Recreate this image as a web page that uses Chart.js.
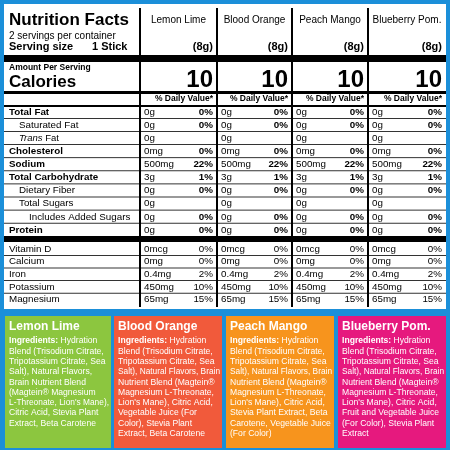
<!DOCTYPE html>
<html><head><meta charset="utf-8">
<script src="https://cdn.jsdelivr.net/npm/chart.js@4"></script>
<style>html,body{margin:0;padding:0;background:#1b8fd9}canvas{display:block}</style>
</head><body>
<canvas id="c" width="450" height="450"></canvas>
<script>
const flavors = ["Lemon Lime","Blood Orange","Peach Mango","Blueberry Pom."];
const servingGrams = ["(8g)","(8g)","(8g)","(8g)"];
const calories = [10,10,10,10];
const nutrientLabels = ["Total Fat","Saturated Fat","Trans Fat","Cholesterol","Sodium","Total Carbohydrate","Dietary Fiber","Total Sugars","Includes Added Sugars","Protein"];
const nutrientBold = [true,false,false,true,true,true,false,false,false,true];
const nutrientIndent = [0,1,1,0,0,0,1,1,2,0];
const nutrientAmounts = ["0g","0g","0g","0mg","500mg","3g","0g","0g","0g","0g"];
const nutrientDV = ["0%","0%","","0%","22%","1%","0%","","0%","0%"];
const mineralLabels = ["Vitamin D","Calcium","Iron","Potassium","Magnesium"];
const mineralAmounts = ["0mcg","0mg","0.4mg","450mg","65mg"];
const mineralDV = ["0%","0%","2%","10%","15%"];
const boxColors = ["#8cc63f","#f15a3b","#f7941d","#e6197e"];
const ingredients = [
 ["Hydration","Blend (Trisodium Citrate,","Tripotassium Citrate, Sea","Salt), Natural Flavors,","Brain Nutrient Blend","(Magtein® Magnesium","L-Threonate, Lion's Mane),","Citric Acid, Stevia Plant","Extract, Beta Carotene"],
 ["Hydration","Blend (Trisodium Citrate,","Tripotassium Citrate, Sea","Salt), Natural Flavors, Brain","Nutrient Blend (Magtein®","Magnesium L-Threonate,","Lion's Mane), Citric Acid,","Vegetable Juice (For","Color), Stevia Plant","Extract, Beta Carotene"],
 ["Hydration","Blend (Trisodium Citrate,","Tripotassium Citrate, Sea","Salt), Natural Flavors, Brain","Nutrient Blend (Magtein®","Magnesium L-Threonate,","Lion's Mane), Citric Acid,","Stevia Plant Extract, Beta","Carotene, Vegetable Juice","(For Color)"],
 ["Hydration","Blend (Trisodium Citrate,","Tripotassium Citrate, Sea","Salt), Natural Flavors, Brain","Nutrient Blend (Magtein®","Magnesium L-Threonate,","Lion's Mane), Citric Acid,","Fruit and Vegetable Juice","(For Color), Stevia Plant","Extract"]
];

const F = "Liberation Sans, Arial, sans-serif";
const colEdges = [140,217,292,368,446];
const boxEdges = [[5,111],[114,222],[226,334],[338,446]];

const label = {
 id:'label',
 afterDraw(chart){
  const ctx = chart.ctx, X = chart.scales.x, Y = chart.scales.y;
  const px = v=>X.getPixelForValue(v), py = v=>Y.getPixelForValue(v);
  const text=(t,x,y,size,bold,align,color,maxW)=>{ctx.font=(bold?'bold ':'')+size+'px '+F;ctx.textAlign=align||'left';ctx.fillStyle=color||'#000';ctx.textBaseline='middle';if(maxW)ctx.fillText(t,px(x),py(y),maxW);else ctx.fillText(t,px(x),py(y));};
  const rect=(x1,y1,x2,y2,c)=>{ctx.fillStyle=c;ctx.fillRect(px(x1),py(y1),px(x2)-px(x1),py(y2)-py(y1));};
  ctx.save();
  rect(4,4,446,309,'#fff');
  text("Nutrition Facts",9,20,17,true);
  text("2 servings per container",9,36,10,false);
  text("Serving size",9,47,11,true);
  text("1 Stick",92,47,11,true);
  flavors.forEach((f,i)=>{
    const l=colEdges[i], r=colEdges[i+1];
    text(f,(l+r)/2,20,10,false,'center');
    text(servingGrams[i],r-4,47,11,true,'right');
    text(String(calories[i]),r-4,80,24,true,'right');
    text("% Daily Value*",r-4,99,8.5,true,'right');
  });
  rect(4,55,446,62,'#000');
  text("Amount Per Serving",9,68,8.5,true);
  text("Calories",9,82,17,true);
  rect(4,91,446,94,'#000');
  rect(4,105,446,107,'#000');
  const rowH=13.1;
  nutrientLabels.forEach((n,k)=>{
    const y=112+k*rowH;
    if(n==="Trans Fat"){ctx.font='italic 9.5px '+F;ctx.fillStyle='#000';ctx.textAlign='left';ctx.fillText("Trans",px(19),py(y));const w=ctx.measureText("Trans ").width;ctx.font='9.5px '+F;ctx.fillText("Fat",px(19)+w,py(y));}
    else text(n,9+nutrientIndent[k]*10,y,9.8,nutrientBold[k]);
    flavors.forEach((f,i)=>{
      const l=colEdges[i], r=colEdges[i+1];
      text(nutrientAmounts[k],l+4,y,9.8,false);
      if(nutrientDV[k]) text(nutrientDV[k],r-4,y,9.8,true,'right');
    });
    if(k<nutrientLabels.length-1) rect(4,y+6,446,y+6.8,'#000');
  });
  rect(4,236,446,242,'#000');
  mineralLabels.forEach((n,k)=>{
    const y=249+k*12.6;
    text(n,9,y,9.8,false);
    flavors.forEach((f,i)=>{
      const l=colEdges[i], r=colEdges[i+1];
      text(mineralAmounts[k],l+4,y,9.8,false);
      text(mineralDV[k],r-4,y,9.8,false,'right');
    });
    if(k<mineralLabels.length-1) rect(4,y+6,446,y+6.8,'#000');
  });
  colEdges.slice(0,4).forEach(x=>rect(x-1,8,x+1,307,'#000'));
  boxEdges.forEach((b,i)=>{
    rect(b[0],316,b[1],448,boxColors[i]);
    text(flavors[i],b[0]+4,327,12,true,'left','#fff');
    const maxW = b[1]-b[0]-6;
    ingredients[i].forEach((ln,j)=>{
      const y=341+j*10.3;
      if(j===0){ctx.font='bold 8.6px '+F;ctx.fillStyle='#fff';ctx.textAlign='left';ctx.fillText("Ingredients: ",px(b[0]+4),py(y));const w=ctx.measureText("Ingredients: ").width;ctx.font='8.6px '+F;ctx.fillText(ln,px(b[0]+4)+w,py(y));}
      else text(ln,b[0]+4,y,8.6,false,'left','#fff',maxW);
    });
  });
  ctx.restore();
 }
};

new Chart(document.getElementById('c'),{
 type:'scatter',
 data:{datasets:[{data:[],pointRadius:0}]},
 options:{responsive:false,animation:false,layout:{padding:0},
  plugins:{legend:{display:false},tooltip:{enabled:false}},
  scales:{x:{type:'linear',min:0,max:450,display:false},y:{type:'linear',min:0,max:450,reverse:true,display:false}}},
 plugins:[label]
});
</script>
</body></html>
